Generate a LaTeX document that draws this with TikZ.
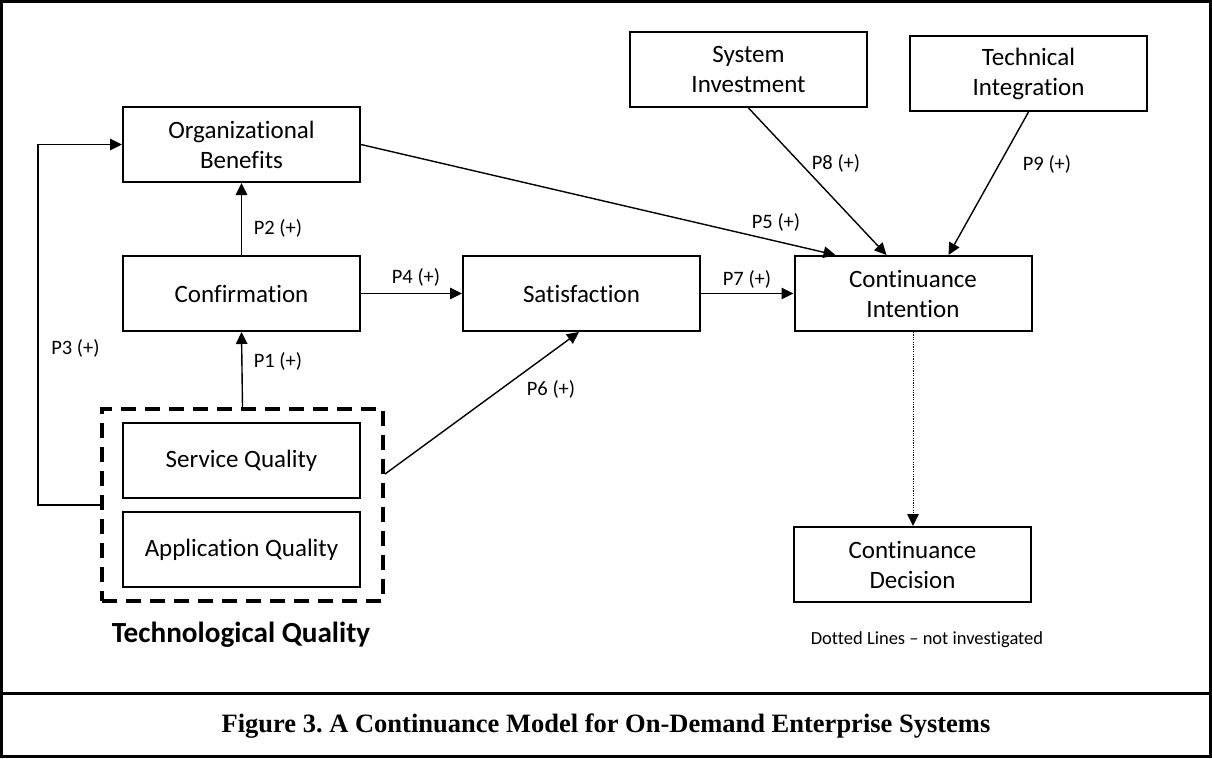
\documentclass[tikz,border=0pt]{standalone}
\usepackage{fontspec}
\setmainfont{Carlito}[Ligatures={NoCommon}]
\newfontfamily\capfont{Liberation Serif}
\usetikzlibrary{arrows.meta,calc}
\tikzset{
  box/.style={draw, line width=2pt, minimum width=237pt, minimum height=75pt,
    inner sep=0pt, align=center, font=\fontsize{25}{30}\selectfont},
  group/.style={draw, line width=4pt, dash pattern=on 15pt off 9pt,
    minimum width=281pt, minimum height=192pt, inner sep=0pt},
  arr/.style={line width=1.4pt, -{Triangle[length=12pt,width=11.5pt]}},
  dotarr/.style={line width=1pt, dash pattern=on 1.2pt off 1.2pt,
    -{Triangle[length=12pt,width=11.5pt]}},
  lbl/.style={font=\fontsize{20.5}{24}\selectfont, inner sep=0pt},
}
\begin{document}
\frenchspacing
\begin{tikzpicture}[x=1pt,y=-1pt]
\useasboundingbox (0,0) rectangle (1212,758);
% outer frame and caption divider
\draw[line width=3pt] (1.5,1.5) rectangle (1210.5,756.5);
\draw[line width=3pt] (1.5,693) -- (1210.5,693);
\node[font=\capfont\bfseries\fontsize{26.5}{30}\selectfont] (cap) at (606,726)
  {Figure 3. A Continuance Model for On-Demand Enterprise Systems};

% constructs
\node[box] (OB) at (241.5,144.5) {Organizational\\Benefits};
\node[box] (CF) at (241.5,293.5) {Confirmation};
\node[box] (SA) at (581.5,293.5) {Satisfaction};
\node[box] (SI) at (748.5,69.5) {System\\Investment};
\node[box] (TI) at (1028.5,73.5) {Technical\\Integration};
\node[box] (CI) at (913,293.5) {Continuance\\Intention};
\node[box] (CD) at (912.5,564.5) {Continuance\\Decision};
\node[box] (SQ) at (241.5,460.5) {Service Quality};
\node[box] (AQ) at (241.5,549.5) {Application Quality};
\node[group] (TQ) at (242.5,505) {};
\node[font=\bfseries\fontsize{29.2}{33}\selectfont] (TQl) at (241,635) {Technological Quality};
\node[font=\fontsize{18.5}{22}\selectfont] (note) at (927,640) {Dotted Lines -- not investigated};

% propositions
\draw[arr] (TQ.north) -- (CF.south);
\draw[arr] (CF.north) -- (OB.south);
\draw[arr] (TQ.west) -- ++(-62,0) |- (OB.west);
\draw[arr] (CF.east) -- (SA.west);
\draw[arr] (OB.east) -- ($(CI.north west)+(42,0)$);
\draw[arr] ($(TQ.north east)+(0,67)$) -- ($(SA.south west)+(117,0)$);
\draw[arr] (SA.east) -- (CI.west);
\draw[arr] (SI.south) -- ($(CI.north west)+(93,0)$);
\draw[arr] (TI.south) -- ($(CI.north west)+(155,0)$);
\draw[dotarr] (CI.south) -- (CI.south |- CD.north);

% proposition labels
\node[lbl] (p1) at (278,361) {P1 (+)};
\node[lbl] (p2) at (278,228) {P2 (+)};
\node[lbl] (p3) at (75.5,348) {P3 (+)};
\node[lbl] (p4) at (416,277) {P4 (+)};
\node[lbl] (p5) at (776,222) {P5 (+)};
\node[lbl] (p6) at (551,389) {P6 (+)};
\node[lbl] (p7) at (747,279) {P7 (+)};
\node[lbl] (p8) at (836,163) {P8 (+)};
\node[lbl] (p9) at (1047,164) {P9 (+)};
\end{tikzpicture}
\end{document}
